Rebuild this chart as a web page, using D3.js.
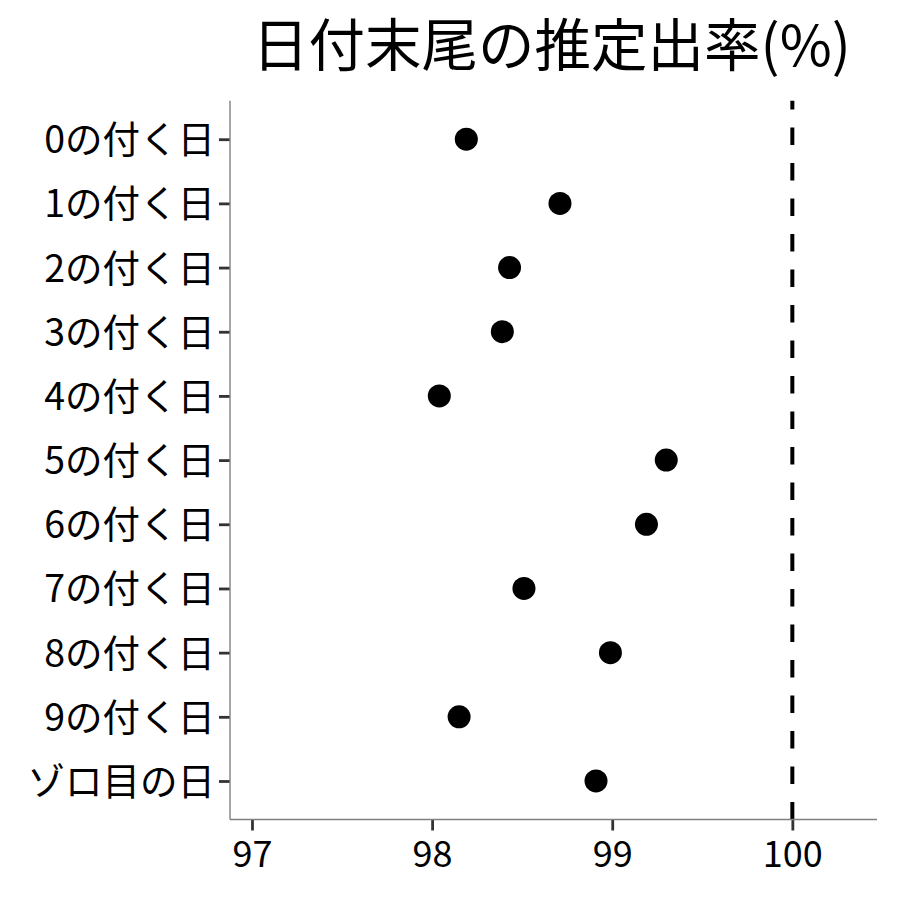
<!DOCTYPE html>
<html>
<head>
<meta charset="utf-8">
<script src="https://cdn.jsdelivr.net/npm/d3@7"></script>
<style>
  body { margin: 0; background: #fff; }
  text { font-family: "Noto Sans CJK JP", "Noto Sans", sans-serif; }
</style>
</head>
<body>
<div id="chart"></div>
<script>
// categories top to bottom
var categories = ["0の付く日", "1の付く日", "2の付く日", "3の付く日", "4の付く日",
  "5の付く日", "6の付く日", "7の付く日", "8の付く日", "9の付く日", "ゾロ目の日"];
// estimated rate (%) per category
var rates = [98.19, 98.71, 98.43, 98.39, 98.04, 99.30, 99.19, 98.51, 98.99, 98.15, 98.91];
var xTicks = [97, 98, 99, 100];
var refLine = 100;
var titleText = "日付末尾の推定出率(%)";

var svgWidth = 900;
var svgHeight = 900;
var panel = { left: 230, right: 877, top: 100.7, bottom: 819.5 };

var svg = d3.select("#chart")
  .append("svg")
  .attr("width", svgWidth)
  .attr("height", svgHeight);

var xScale = d3.scaleLinear()
  .domain([96.878, 100.47])
  .range([panel.left, panel.right]);

var yScale = d3.scalePoint()
  .domain(categories)
  .range([panel.top, panel.bottom])
  .padding(0.6);

// dashed reference line, pattern starts at the bottom
svg.append("line")
  .attr("x1", xScale(refLine))
  .attr("x2", xScale(refLine))
  .attr("y1", panel.bottom)
  .attr("y2", panel.top)
  .attr("stroke", "#000")
  .attr("stroke-width", 4)
  .attr("stroke-dasharray", "17.5,18");

// points
svg.selectAll("circle.pt")
  .data(categories)
  .enter()
  .append("circle")
  .attr("class", "pt")
  .attr("cx", (d, i) => xScale(rates[i]))
  .attr("cy", d => yScale(d))
  .attr("r", 11.5)
  .attr("fill", "#000");

// x axis
var xAxis = svg.append("g")
  .attr("transform", `translate(0,${panel.bottom})`)
  .call(d3.axisBottom(xScale).tickValues(xTicks).tickFormat(d3.format("d"))
    .tickSize(11).tickPadding(11).tickSizeOuter(0));
xAxis.select(".domain").remove();
xAxis.selectAll(".tick line").attr("stroke", "#333").attr("stroke-width", 2.8);
xAxis.selectAll(".tick text")
  .attr("fill", "#000")
  .attr("font-size", 36)
  .attr("dy", "0.72em");

// y axis
var yAxis = svg.append("g")
  .attr("transform", `translate(${panel.left},0)`)
  .call(d3.axisLeft(yScale).tickSize(11).tickPadding(4));
yAxis.select(".domain").remove();
yAxis.selectAll(".tick line").attr("stroke", "#333").attr("stroke-width", 2.8);
yAxis.selectAll(".tick text")
  .attr("fill", "#000")
  .attr("font-size", 37.5)
  .attr("dy", "0.36em");

// axis lines
svg.append("line")
  .attr("x1", panel.left).attr("x2", panel.left)
  .attr("y1", panel.top).attr("y2", panel.bottom)
  .attr("stroke", "#808080").attr("stroke-width", 1.4);
svg.append("line")
  .attr("x1", panel.left).attr("x2", panel.right)
  .attr("y1", panel.bottom).attr("y2", panel.bottom)
  .attr("stroke", "#808080").attr("stroke-width", 1.4);

// title
svg.append("text")
  .attr("x", (panel.left + panel.right) / 2 - 2)
  .attr("y", 66)
  .attr("text-anchor", "middle")
  .attr("font-size", 56.5)
  .attr("fill", "#000")
  .text(titleText);
</script>
</body>
</html>
